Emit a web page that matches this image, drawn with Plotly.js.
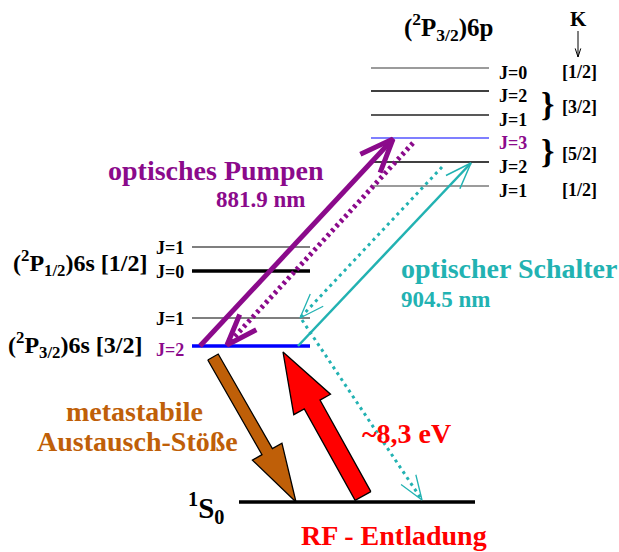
<!DOCTYPE html>
<html>
<head>
<meta charset="utf-8">
<script src="https://cdn.plot.ly/plotly-3.0.1.min.js"></script>
<style>html,body{margin:0;padding:0;background:#fff;}#chart{width:619px;height:552px;}</style>
</head>
<body>
<div id="chart"></div>
<script>
// ---- data (vertical energy position, figure units, downward) ----
const upperJ = ['J=0', 'J=2', 'J=1', 'J=3', 'J=2', 'J=1'];
const upperY = [68, 91, 115, 138, 162, 186];
const kLabels = ['[1/2]', '[3/2]', '[5/2]', '[1/2]'];
const kGroups = [[0], [1, 2], [3, 4], [5]];
const lowerJ = ['J=1', 'J=0', 'J=1', 'J=2'];
const lowerY = [247, 271, 318, 346];
const lowerTerms = ['(<sup>2</sup>P<sub>1/2</sub>)6s [1/2]', '(<sup>2</sup>P<sub>3/2</sub>)6s [3/2]'];
const groundLabel = '<sup>1</sup>S<sub>0</sub>';
const groundY = [502];
const upperTerm = '(<sup>2</sup>P<sub>3/2</sub>)6p';
const pumpLabel = ['optisches Pumpen', '881.9 nm'];
const switchLabel = ['optischer Schalter', '904.5 nm'];
const collLabel = ['metastabile', 'Austausch-Stöße'];
const rfLabel = ['~8,3 eV', 'RF - Entladung'];

// ---- styles ----
const FONT = 'Liberation Serif, Times New Roman, serif';
const PURPLE = '#8b0a8b', TEAL = '#22b2b2', BROWN = '#bf5f08', RED = '#ff0000', BLUE = '#0000ff';

const traces = [];
const annotations = [];

function seg(xs, ys, color, width, dash) {
  traces.push({x: xs, y: ys, mode: 'lines', type: 'scatter', hoverinfo: 'skip', showlegend: false,
    line: {color: color, width: width, dash: dash || 'solid'}});
}
function head(tip, from, len, ang, color, width) {
  const dx = from[0] - tip[0], dy = from[1] - tip[1];
  const n = Math.hypot(dx, dy), ux = dx / n, uy = dy / n;
  const a = ang * Math.PI / 180;
  const w1 = [tip[0] + len * (ux * Math.cos(a) - uy * Math.sin(a)), tip[1] + len * (ux * Math.sin(a) + uy * Math.cos(a))];
  const w2 = [tip[0] + len * (ux * Math.cos(-a) - uy * Math.sin(-a)), tip[1] + len * (ux * Math.sin(-a) + uy * Math.cos(-a))];
  seg([w1[0], tip[0], w2[0]], [w1[1], tip[1], w2[1]], color, width);
}
function arrow(from, tip, color, width, dash, hlen, hang, hwidth) {
  seg([from[0], tip[0]], [from[1], tip[1]], color, width, dash);
  head(tip, from, hlen, hang, color, hwidth || width);
}
function block(tail, tip, sh, hh, hl, color) {
  const dx = tip[0] - tail[0], dy = tip[1] - tail[1];
  const n = Math.hypot(dx, dy), ux = dx / n, uy = dy / n, px = -uy, py = ux;
  const bx = tip[0] - ux * hl, by = tip[1] - uy * hl;
  const xs = [tail[0] + px * sh, bx + px * sh, bx + px * hh, tip[0], bx - px * hh, bx - px * sh, tail[0] - px * sh, tail[0] + px * sh];
  const ys = [tail[1] + py * sh, by + py * sh, by + py * hh, tip[1], by - py * hh, by - py * sh, tail[1] - py * sh, tail[1] + py * sh];
  traces.push({x: xs, y: ys, mode: 'lines', type: 'scatter', fill: 'toself', fillcolor: color, hoverinfo: 'skip', showlegend: false,
    line: {color: '#000', width: 1.3}});
}
function txt(text, x, y, size, color, xanchor) {
  annotations.push({text: text, x: x, y: y, xref: 'x', yref: 'y', showarrow: false,
    xanchor: xanchor || 'left', yanchor: 'middle',
    font: {family: FONT, size: size, color: color, weight: 'bold'}});
}

// ---- upper levels (6p) ----
const upColors = ['#7a7a7a', '#000', '#222', '#5555ff', '#000', '#7a7a7a'];
upperY.forEach((y, i) => {
  seg([371, 489], [y, y], upColors[i], i === 3 ? 1.6 : 1.3);
  txt(upperJ[i], 497, y + 5, 18, i === 3 ? PURPLE : '#000');
});
kGroups.forEach((g, k) => {
  const yc = g.reduce((s, i) => s + upperY[i], 0) / g.length;
  txt(kLabels[k], 579, yc + 4, 18, '#000', 'center');
  if (g.length > 1) txt('}', 547, yc + 1, 34, '#000', 'center');
});
txt(upperTerm, 402, 27, 25, '#000');
txt('K', 578, 19, 21, '#000', 'center');
arrow([578, 31], [578, 57], '#000', 1, 'solid', 9, 18);

// ---- lower levels (6s) ----
const loColors = ['#000', '#000', '#555', BLUE];
const loWidths = [1.2, 3.5, 1.3, 3.5];
lowerY.forEach((y, i) => {
  seg([192, 310], [y, y], loColors[i], loWidths[i]);
  txt(lowerJ[i], 154, y + (i === 3 ? 4 : 1), 18, i === 3 ? PURPLE : '#000');
});
txt(lowerTerms[0], 11, 263, 24, '#000');
txt(lowerTerms[1], 6, 345, 24, '#000');

// ---- ground state ----
seg([239, 475], [groundY[0], groundY[0]], '#000', 3.5);
txt(groundLabel, 186, 508, 29, '#000');

// ---- transitions ----
arrow([200, lowerY[3]], [393, upperY[3] + 1], PURPLE, 5, 'solid', 36, 22);
arrow([413, upperY[3] + 5], [227, lowerY[3] - 1], PURPLE, 5, '3px,3.5px', 33, 20);
arrow([298, lowerY[3]], [471, upperY[4] + 1], TEAL, 2.5, 'solid', 28, 20, 1.5);
arrow([442, upperY[4] + 5], [300, lowerY[2]], TEAL, 3, '3px,4px', 26, 20, 1.3);
arrow([302, lowerY[2] + 2], [422, groundY[0] - 2], TEAL, 3, '3px,4px', 26, 20, 1.3);
block([213, lowerY[3] + 11], [296, groundY[0]], 6, 17, 58, BROWN);
block([363, groundY[0] - 6], [283, lowerY[3] + 6], 9, 21, 60, RED);

// ---- captions ----
txt(pumpLabel[0], 106, 170, 28, PURPLE);
txt(pumpLabel[1], 214, 199, 23, PURPLE);
txt(switchLabel[0], 399, 268, 28, TEAL);
txt(switchLabel[1], 399, 299, 23, TEAL);
txt(collLabel[0], 134, 411, 28, BROWN, 'center');
txt(collLabel[1], 137, 441, 28, BROWN, 'center');
txt(rfLabel[0], 360, 433, 28, RED);
txt(rfLabel[1], 299, 535, 28, RED);

const layout = {
  width: 619, height: 552,
  margin: {l: 0, r: 0, t: 0, b: 0},
  paper_bgcolor: '#fff', plot_bgcolor: '#fff',
  xaxis: {range: [0, 619], visible: false, fixedrange: true},
  yaxis: {range: [552, 0], visible: false, fixedrange: true},
  annotations: annotations,
  showlegend: false
};
Plotly.newPlot('chart', traces, layout, {staticPlot: true, displayModeBar: false});
</script>
</body>
</html>
